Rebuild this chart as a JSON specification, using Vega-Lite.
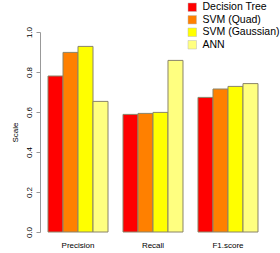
{
  "$schema": "https://vega.github.io/schema/vega-lite/v6.json",
  "autosize": {"type": "none"},
  "padding": {"left": 40, "top": 32, "right": 14, "bottom": 21},
  "width": 226,
  "height": 200,
  "config": {"font": "Liberation Sans", "view": {"stroke": null}},
  "data": {"values": [
    {"metric": "Precision", "model": "Decision Tree", "value": 0.78},
    {"metric": "Precision", "model": "SVM (Quad)", "value": 0.898},
    {"metric": "Precision", "model": "SVM (Gaussian)", "value": 0.928},
    {"metric": "Precision", "model": "ANN", "value": 0.653},
    {"metric": "Recall", "model": "Decision Tree", "value": 0.588},
    {"metric": "Recall", "model": "SVM (Quad)", "value": 0.593},
    {"metric": "Recall", "model": "SVM (Gaussian)", "value": 0.598},
    {"metric": "Recall", "model": "ANN", "value": 0.858},
    {"metric": "F1.score", "model": "Decision Tree", "value": 0.673},
    {"metric": "F1.score", "model": "SVM (Quad)", "value": 0.715},
    {"metric": "F1.score", "model": "SVM (Gaussian)", "value": 0.728},
    {"metric": "F1.score", "model": "ANN", "value": 0.742}
  ]},
  "mark": {"type": "bar", "stroke": "#8a8468", "strokeWidth": 1},
  "encoding": {
    "x": {
      "field": "metric", "type": "nominal",
      "sort": ["Precision", "Recall", "F1.score"],
      "scale": {"paddingInner": 0.2, "paddingOuter": 0.1067},
      "axis": {"title": null, "domain": false, "ticks": false, "labelAngle": 0, "labelFontSize": 8, "labelPadding": 9, "labelColor": "#000"}
    },
    "xOffset": {
      "field": "model", "type": "nominal",
      "sort": ["Decision Tree", "SVM (Quad)", "SVM (Gaussian)", "ANN"],
      "scale": {"paddingInner": 0, "paddingOuter": 0}
    },
    "y": {
      "field": "value", "type": "quantitative",
      "scale": {"domain": [0, 1], "nice": false, "zero": true},
      "axis": {
        "title": "Scale", "titleFontSize": 8, "titleFontWeight": "normal", "titleColor": "#000", "titlePadding": 6,
        "values": [0, 0.2, 0.4, 0.6, 0.8, 1.0], "format": ".1f",
        "grid": false, "domainColor": "#999", "tickColor": "#999", "tickSize": 4,
        "labelAngle": -90, "labelAlign": "center", "labelBaseline": "bottom", "labelPadding": 3,
        "labelFontSize": 8, "labelColor": "#000"
      }
    },
    "color": {
      "field": "model", "type": "nominal",
      "sort": ["Decision Tree", "SVM (Quad)", "SVM (Gaussian)", "ANN"],
      "scale": {"domain": ["Decision Tree", "SVM (Quad)", "SVM (Gaussian)", "ANN"], "range": ["#FF0000", "#FF8000", "#FFFF00", "#FFFF80"]},
      "legend": {
        "title": null, "orient": "none", "legendX": 147, "legendY": -30, "padding": 0,
        "symbolType": "square", "symbolSize": 72, "symbolStrokeWidth": 0.5, "symbolStrokeColor": "#bbb", "symbolOpacity": 1,
        "labelFontSize": 10.5, "labelColor": "#000", "rowPadding": 1.5, "labelOffset": 5, "labelLimit": 200
      }
    }
  }
}
